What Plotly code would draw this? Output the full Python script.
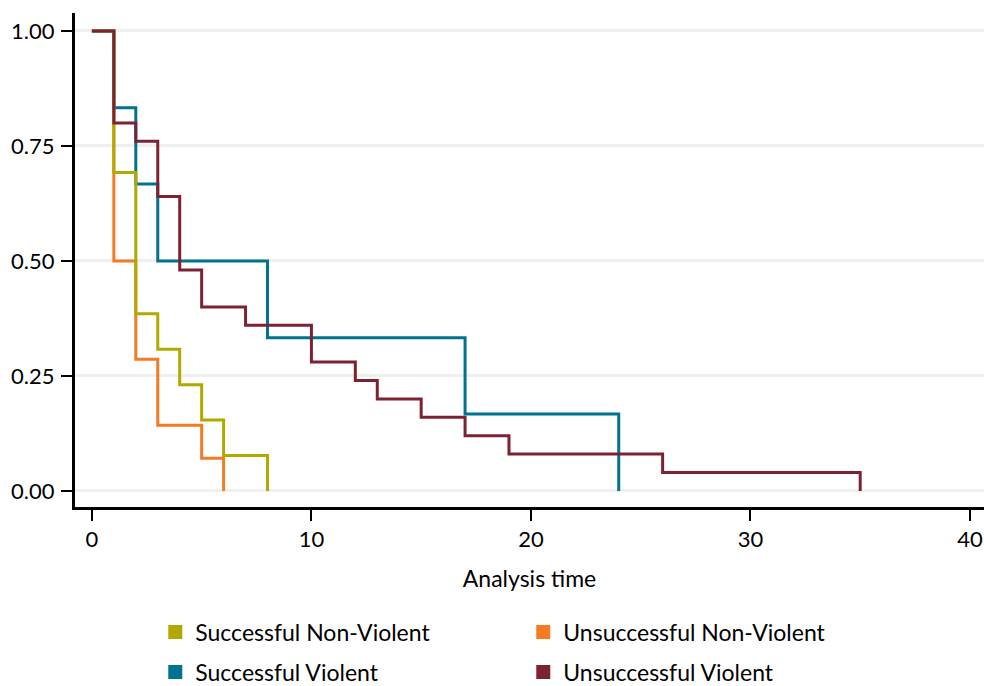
import plotly.graph_objects as go

# Kaplan-Meier step data (analysis time, survival)
snv_t = [0, 1, 2, 3, 4, 5, 6, 8]
snv_s = [1.0, 0.692, 0.385, 0.308, 0.231, 0.154, 0.077, 0.0]

unv_t = [0, 1, 2, 3, 5, 6]
unv_s = [1.0, 0.5, 0.286, 0.143, 0.071, 0.0]

sv_t = [0, 1, 2, 3, 8, 17, 24]
sv_s = [1.0, 0.833, 0.667, 0.5, 0.333, 0.167, 0.0]

uv_t = [0, 1, 2, 3, 4, 5, 7, 10, 12, 13, 15, 17, 19, 26, 35]
uv_s = [1.0, 0.80, 0.76, 0.64, 0.48, 0.40, 0.36, 0.28, 0.24, 0.20, 0.16, 0.12, 0.08, 0.04, 0.0]

names = ["Successful Non-Violent", "Unsuccessful Non-Violent",
         "Successful Violent", "Unsuccessful Violent"]
colors = ["#b1a800", "#f27b24", "#00738f", "#7c2232"]

x_ticks = [0, 10, 20, 30, 40]
y_ticks = [0.0, 0.25, 0.5, 0.75, 1.0]
y_tick_labels = ["0.00", "0.25", "0.50", "0.75", "1.00"]

FONT = "Lato"

fig = go.Figure()

series = {
    0: (snv_t, snv_s),
    1: (unv_t, unv_s),
    2: (sv_t, sv_s),
    3: (uv_t, uv_s),
}
# drawing order: orange, teal, olive, maroon (maroon on top)
for i in [1, 2, 0, 3]:
    t, s = series[i]
    fig.add_trace(go.Scatter(
        x=t, y=s, mode="lines", line=dict(color=colors[i], width=3, shape="hv"),
        showlegend=False, hoverinfo="skip"))

# legend entries (square keys), two rows
for i in range(4):
    fig.add_trace(go.Scatter(
        x=[None], y=[None], mode="markers", name=names[i],
        marker=dict(symbol="square", size=14, color=colors[i]),
        legend="legend" if i < 2 else "legend2", legendrank=i))

legend_common = dict(
    orientation="h", xanchor="left", yanchor="middle",
    font=dict(family=FONT, size=23, color="#000000"),
    entrywidthmode="pixels", entrywidth=323,
    bgcolor="rgba(0,0,0,0)", borderwidth=0, itemclick=False, itemdoubleclick=False,
)

fig.update_layout(
    width=984, height=686,
    margin=dict(l=75, r=0, t=13, b=179, autoexpand=False),
    paper_bgcolor="white", plot_bgcolor="white",
    font=dict(family=FONT, size=20, color="#000000"),
    xaxis=dict(
        range=[-0.77, 40.64], tickvals=x_ticks, ticks="outside", ticklen=11,
        tickwidth=2, tickcolor="black", showline=True, linewidth=3,
        linecolor="black", showgrid=False, zeroline=False, automargin=False,
        title=dict(text="Analysis time", font=dict(family=FONT, size=23), standoff=20),
        tickfont=dict(family=FONT, size=22),
    ),
    yaxis=dict(
        range=[-0.035, 1.039], tickvals=y_ticks, ticktext=y_tick_labels,
        ticks="outside", ticklen=11, tickwidth=2, tickcolor="black",
        showline=True, linewidth=3, linecolor="black", automargin=False,
        showgrid=True, gridcolor="#efefef", gridwidth=3, zeroline=False,
        tickfont=dict(family=FONT, size=22), ticklabelstandoff=2,
    ),
    legend=dict(x=0.0883, y=-0.253, **legend_common),
    legend2=dict(x=0.0883, y=-0.334, **legend_common),
)

fig.write_html(
    "out.html",
    config={"displayModeBar": False},
    post_script="document.body.style.margin='0';document.body.style.overflow='hidden';",
)
